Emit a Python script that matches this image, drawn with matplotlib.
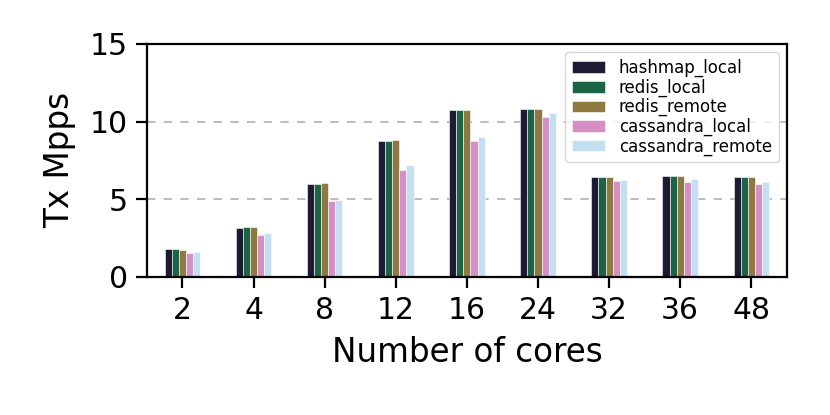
import matplotlib
matplotlib.use("Agg")
import matplotlib.pyplot as plt
import numpy as np

cores = ["2", "4", "8", "12", "16", "24", "32", "36", "48"]
hashmap_local = [1.76, 3.12, 6.00, 8.76, 10.77, 10.81, 6.43, 6.50, 6.41]
redis_local = [1.76, 3.18, 5.98, 8.72, 10.73, 10.79, 6.43, 6.50, 6.41]
redis_remote = [1.73, 3.18, 6.03, 8.82, 10.75, 10.81, 6.43, 6.47, 6.41]
cassandra_local = [1.56, 2.69, 4.89, 6.90, 8.76, 10.32, 6.18, 6.09, 5.98]
cassandra_remote = [1.60, 2.80, 4.96, 7.18, 9.02, 10.58, 6.22, 6.28, 6.09]

series = [
    ("hashmap_local", hashmap_local, "#1e1a33"),
    ("redis_local", redis_local, "#1d6348"),
    ("redis_remote", redis_remote, "#8c7a40"),
    ("cassandra_local", cassandra_local, "#d58fc5"),
    ("cassandra_remote", cassandra_remote, "#c3dff1"),
]

fig = plt.figure(figsize=(8.3, 4.15), dpi=100)
ax = fig.add_axes([0.177, 0.333, 0.771, 0.561])

x = np.arange(len(cores))
w = 0.1
for i, (name, vals, col) in enumerate(series):
    ax.bar(x + (i - 2) * w, vals, width=w, color=col, label=name,
           edgecolor="white", linewidth=0.4, zorder=2)

ax.set_xlim(-0.5, len(cores) - 0.5)
ax.set_ylim(0, 15)
ax.set_yticks([0, 5, 10, 15])
ax.set_xticks(x)
ax.set_xticklabels(cores)
ax.yaxis.grid(True, linestyle=(0, (5, 5)), color="#b0b0b0", linewidth=1.2, zorder=0)
ax.set_axisbelow(True)

for s in ax.spines.values():
    s.set_linewidth(1.6)
ax.tick_params(axis="both", labelsize=21.5, length=7.7, width=1.6, pad=6)
ax.set_xlabel("Number of cores", fontsize=23.5, labelpad=8)
ax.set_ylabel("Tx Mpps", fontsize=23.5, labelpad=10)

ax.legend(loc="upper right", fontsize=12, labelspacing=0.08,
          handlelength=2.0, handletextpad=0.8, borderpad=0.4,
          borderaxespad=0.5, framealpha=0.8)

fig.savefig("out.png", dpi=100)
